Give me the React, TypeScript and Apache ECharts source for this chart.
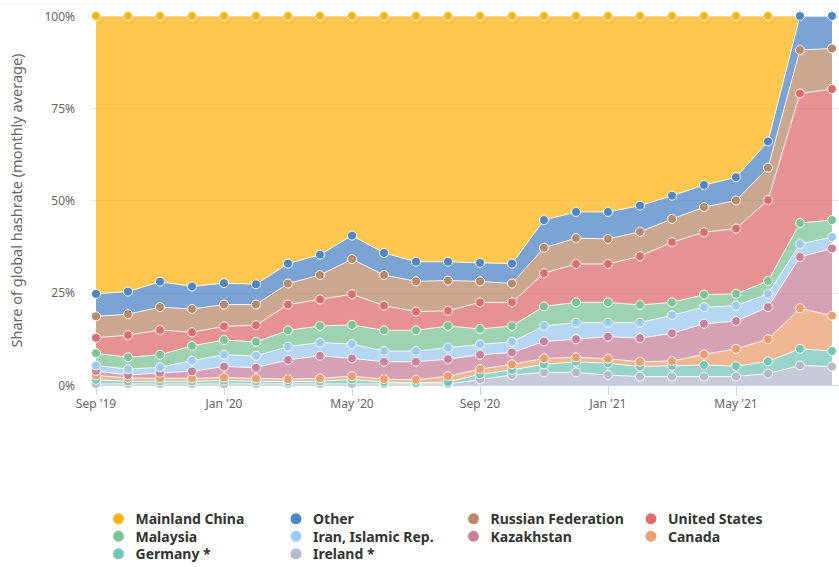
import React, { useEffect, useRef } from "react";
import * as echarts from "echarts";

const months = [
  "Sep '19", "Oct '19", "Nov '19", "Dec '19", "Jan '20", "Feb '20", "Mar '20", "Apr '20",
  "May '20", "Jun '20", "Jul '20", "Aug '20", "Sep '20", "Oct '20", "Nov '20", "Dec '20",
  "Jan '21", "Feb '21", "Mar '21", "Apr '21", "May '21", "Jun '21", "Jul '21", "Aug '21",
];
const yTicks = [0, 25, 50, 75, 100];

const ireland = [0.3, 0.3, 0.3, 0.3, 0.3, 0.3, 0.3, 0.3, 0.3, 0.3, 0.3, 0.3, 1.5, 2.7, 3.4, 3.4, 2.7, 2.3, 2.3, 2.3, 2.3, 3.1, 5.3, 5.0];
const germany = [1.1, 0.7, 0.7, 0.7, 0.9, 0.7, 0.6, 0.7, 1.2, 0.5, 0.3, 0.5, 1.4, 1.4, 2.2, 2.9, 3.2, 2.7, 2.9, 3.1, 2.8, 3.3, 4.5, 4.2];
const canada = [1.2, 0.9, 0.8, 0.8, 0.8, 0.8, 0.7, 0.8, 0.9, 0.8, 0.8, 1.6, 1.4, 1.5, 1.6, 1.2, 1.2, 1.3, 1.3, 2.9, 4.7, 6.0, 11.0, 9.6];
const kazakhstan = [1.2, 0.8, 1.5, 1.9, 3.0, 2.9, 5.2, 6.1, 4.8, 4.7, 4.9, 4.6, 3.9, 3.2, 4.6, 4.9, 6.0, 6.4, 7.5, 8.3, 7.5, 8.7, 13.9, 18.2];
const iran = [1.5, 1.6, 1.5, 2.9, 3.2, 3.2, 3.6, 3.6, 3.9, 2.9, 2.9, 3.1, 2.8, 2.9, 4.2, 4.5, 3.8, 4.2, 4.9, 4.5, 4.2, 3.6, 3.5, 3.1];
const malaysia = [3.3, 3.2, 3.4, 4.0, 4.0, 3.8, 4.4, 4.5, 5.2, 5.6, 5.6, 5.9, 4.2, 4.3, 5.3, 5.5, 5.5, 4.8, 3.5, 3.4, 3.2, 3.5, 5.7, 4.6];
const unitedStates = [4.2, 6.0, 6.7, 3.7, 3.7, 4.5, 7.0, 7.2, 8.3, 6.7, 5.1, 4.1, 7.2, 6.4, 9.0, 10.4, 10.4, 13.2, 16.3, 16.9, 17.7, 21.9, 35.1, 35.5];
const russia = [5.8, 5.7, 6.2, 6.3, 5.9, 5.6, 5.7, 6.6, 9.5, 8.3, 8.2, 8.2, 5.7, 5.1, 6.9, 7.0, 6.8, 6.6, 6.3, 6.8, 7.6, 8.8, 11.8, 11.0];
const other = [6.1, 6.1, 6.9, 6.1, 5.8, 5.5, 5.4, 5.5, 6.4, 6.0, 5.3, 5.1, 5.0, 5.4, 7.5, 7.1, 7.3, 7.1, 6.3, 6.0, 6.3, 7.1, 9.2, 8.8];
const mainlandChina = [75.3, 74.7, 72.0, 73.3, 72.4, 72.7, 67.1, 64.7, 59.5, 64.2, 66.6, 66.6, 66.9, 67.1, 55.3, 53.1, 53.1, 51.4, 48.7, 45.8, 43.7, 34.0, 0, 0];

// stacking order: bottom first
const seriesDefs = [
  { name: "Ireland *", data: ireland, color: "#b4bacb" },
  { name: "Germany *", data: germany, color: "#75c5b8" },
  { name: "Canada", data: canada, color: "#eaa06e" },
  { name: "Kazakhstan", data: kazakhstan, color: "#c9829c" },
  { name: "Iran, Islamic Rep.", data: iran, color: "#9ecaef" },
  { name: "Malaysia", data: malaysia, color: "#7cc496" },
  { name: "United States", data: unitedStates, color: "#de6e6e" },
  { name: "Russian Federation", data: russia, color: "#b98a6a" },
  { name: "Other", data: other, color: "#4f86c6" },
  { name: "Mainland China", data: mainlandChina, color: "#fdb515" },
];

const legendOrder = [
  "Mainland China", "Other", "Russian Federation", "United States",
  "Malaysia", "Iran, Islamic Rep.", "Kazakhstan", "Canada",
  "Germany *", "Ireland *",
];

const FONT = "'Noto Sans', sans-serif";

export default function App() {
  const ref = useRef<HTMLDivElement>(null);
  useEffect(() => {
    document.body.style.margin = "0";
    if (!ref.current) return;
    const chart = echarts.init(ref.current, null, { renderer: "svg" });
    chart.setOption({
      animation: false,
      textStyle: { fontFamily: FONT },
      grid: [
        { left: 96, right: 7, top: 16, bottom: 182, containLabel: false },
        { left: 88, right: 0, top: 16, bottom: 182, containLabel: false },
      ],
      graphic: [
        {
          type: "line",
          shape: { x1: 0, y1: 4, x2: 839, y2: 4 },
          style: { stroke: "#f0f0f0", lineWidth: 1 },
        },
      ],
      xAxis: [
        {
          type: "category",
          gridIndex: 0,
          data: months,
          boundaryGap: false,
          axisLine: { show: false },
          axisTick: {
            show: true,
            interval: 3,
            length: 10,
            lineStyle: { color: "#ccd6eb" },
          },
          axisLabel: {
            interval: 3,
            color: "#666666",
            fontSize: 12,
            margin: 12,
            fontFamily: FONT,
          },
          splitLine: { show: false },
        },
        {
          type: "value",
          gridIndex: 1,
          min: 0,
          max: 1,
          axisLine: { show: true, lineStyle: { color: "#ccd6eb" } },
          axisTick: { show: false },
          axisLabel: { show: false },
          splitLine: { show: false },
        },
      ],
      yAxis: [
        {
          type: "value",
          gridIndex: 0,
          min: 0,
          max: 100,
          interval: 25,
          axisLine: { show: false },
          axisTick: { show: false },
          axisLabel: { show: false },
          splitLine: { show: false },
        },
        {
          type: "value",
          gridIndex: 1,
          min: 0,
          max: 100,
          interval: 25,
          name: "Share of global hashrate (monthly average)",
          nameLocation: "middle",
          nameGap: 68,
          nameTextStyle: { color: "#666666", fontSize: 14.5, fontFamily: FONT },
          axisLine: { show: false },
          axisTick: { show: false },
          axisLabel: {
            formatter: (v: number) => (yTicks.includes(v) ? v + "%" : ""),
            color: "#666666",
            fontSize: 12,
            margin: 16,
            fontFamily: FONT,
          },
          splitLine: { show: true, lineStyle: { color: "#e6e6e6" } },
        },
      ],
      legend: {
        data: legendOrder,
        orient: "horizontal",
        left: 106,
        top: 505,
        width: 740,
        itemGap: 0,
        itemWidth: 24,
        itemHeight: 13,
        icon: "circle",
        textStyle: {
          color: "#333333",
          fontSize: 14,
          fontWeight: "bold",
          fontFamily: FONT,
          width: 153,
          lineHeight: 17.5,
        },
      },
      series: seriesDefs.map((s) => ({
        name: s.name,
        type: "line",
        stack: "total",
        xAxisIndex: 0,
        yAxisIndex: 0,
        color: s.color,
        data: s.data.map((v) =>
          s.name === "Mainland China" && v === 0
            ? { value: v, symbol: "none" }
            : v
        ),
        symbol: "circle",
        symbolSize: 9,
        showSymbol: true,
        itemStyle: { color: s.color, borderColor: "#ffffff", borderWidth: 1 },
        lineStyle: { color: "rgba(255,255,255,0.85)", width: 1 },
        areaStyle: { color: s.color, opacity: 0.75 },
        emphasis: { disabled: true },
      })),
    });
    return () => chart.dispose();
  }, []);
  return <div ref={ref} style={{ width: 839, height: 567 }} />;
}
